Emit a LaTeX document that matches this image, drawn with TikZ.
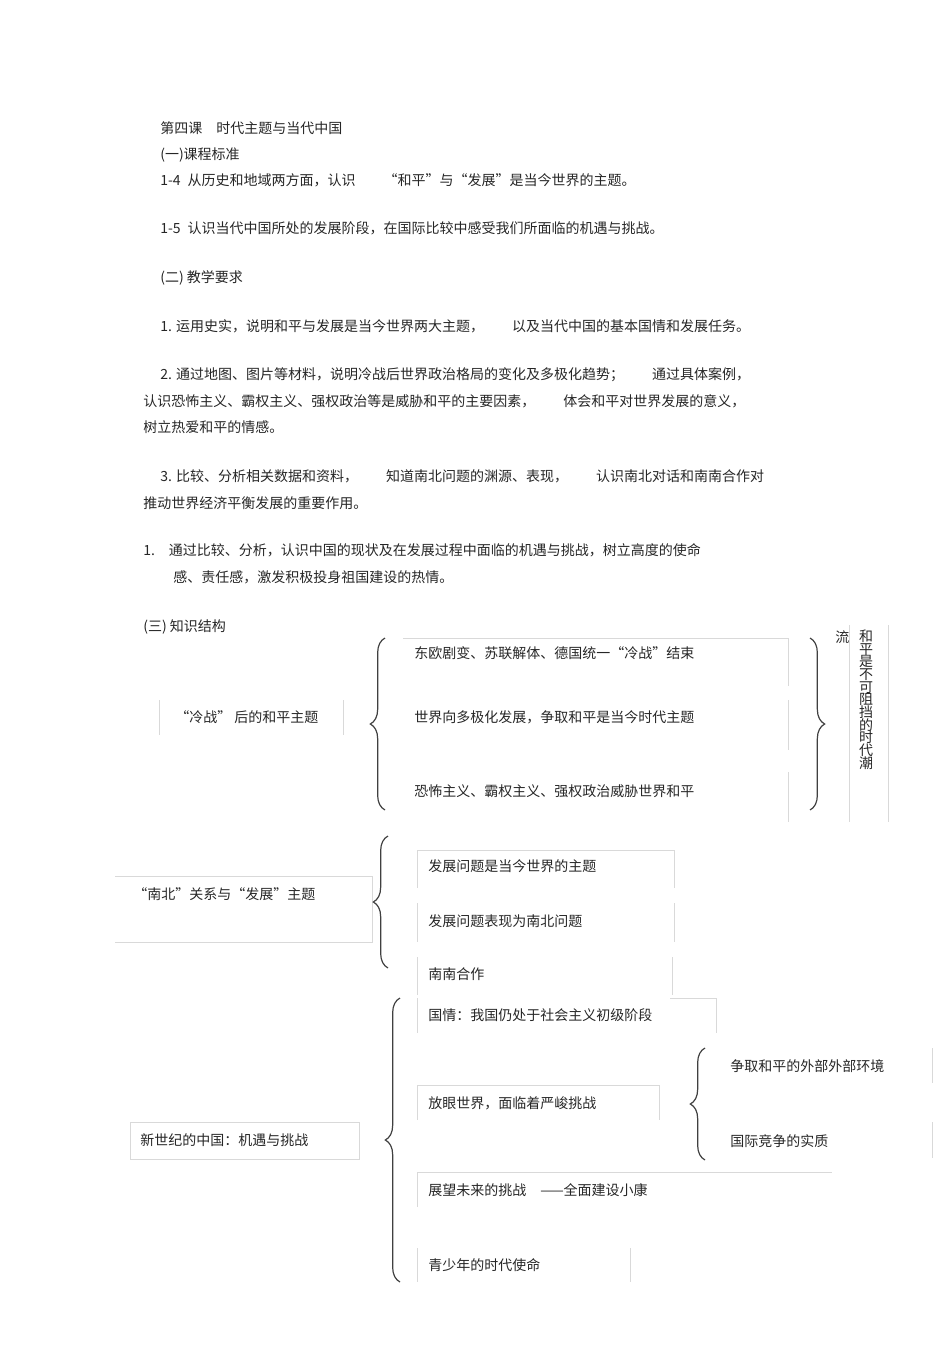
\documentclass[tikz,border=0pt]{standalone}
\usepackage{fontspec}
\setmainfont{Noto Sans CJK SC}
\usetikzlibrary{decorations.pathreplacing}
\begin{document}
\begin{tikzpicture}[x=0.75pt,y=-0.75pt,
  every node/.style={inner sep=0pt,anchor=west,font=\fontsize{10.5}{13}\selectfont,text=black!85},
  faint/.style={draw=black!15,line width=0.6pt},
  brL/.style={draw=black!75,line width=0.9pt,decorate,decoration={brace,amplitude=11pt,mirror}},
  brR/.style={draw=black!75,line width=0.9pt,decorate,decoration={brace,amplitude=11pt}}]
\useasboundingbox (0,0) rectangle (950,1345);
\node (t1) at (160,128) {第四课\quad 时代主题与当代中国};
\node (t2) at (160,155) {(一)课程标准};
\node (t3) at (160,180) {1-4\enspace 从历史和地域两方面，认识\qquad “和平”与“发展”是当今世界的主题。};
\node (t4) at (160,228) {1-5\enspace 认识当代中国所处的发展阶段，在国际比较中感受我们所面临的机遇与挑战。};
\node (t5) at (160,278) {(二) 教学要求};
\node (t6) at (160,326) {1. 运用史实，说明和平与发展是当今世界两大主题，\qquad 以及当代中国的基本国情和发展任务。};
\node (t7) at (160,375) {2. 通过地图、图片等材料，说明冷战后世界政治格局的变化及多极化趋势；\qquad 通过具体案例，};
\node (t8) at (143,401) {认识恐怖主义、霸权主义、强权政治等是威胁和平的主要因素，\qquad 体会和平对世界发展的意义，};
\node (t9) at (143,427) {树立热爱和平的情感。};
\node (t10) at (160,476) {3. 比较、分析相关数据和资料，\qquad 知道南北问题的渊源、表现，\qquad 认识南北对话和南南合作对};
\node (t11) at (143,503) {推动世界经济平衡发展的重要作用。};
\node (t12) at (143,550) {1.\quad 通过比较、分析，认识中国的现状及在发展过程中面临的机遇与挑战，树立高度的使命};
\node (t13) at (173,577) {感、责任感，激发积极投身祖国建设的热情。};
\node (t14) at (143,627) {(三) 知识结构};
% section 1
\draw[faint] (159,700)--(159,735) (343,700)--(343,735);
\node (a) at (175,717) {“冷战” 后的和平主题};
\draw[brL] (385,638) -- (385,810);
\draw[faint] (403,638)--(788,638) (788,638)--(788,686) (788,700)--(788,750) (788,772)--(788,822);
\node (a1) at (414,653) {东欧剧变、苏联解体、德国统一“冷战”结束};
\node (a2) at (414,717) {世界向多极化发展，争取和平是当今时代主题};
\node (a3) at (414,791) {恐怖主义、霸权主义、强权政治威胁世界和平};
\draw[brR] (810,638) -- (810,810);
\draw[faint] (849,625)--(849,822) (888,625)--(888,822);
\node (l) at (835,637) {流};
\node[anchor=north] (v) at (866,629) {\begin{tabular}{@{}c@{}}和\\[-3.5pt]平\\[-3.5pt]是\\[-3.5pt]不\\[-3.5pt]可\\[-3.5pt]阻\\[-3.5pt]挡\\[-3.5pt]的\\[-3.5pt]时\\[-3.5pt]代\\[-3.5pt]潮\end{tabular}};
% section 2
\draw[faint] (115,876)--(372,876)--(372,942)--(115,942);
\node (b) at (133,894) {“南北”关系与“发展”主题};
\draw[brL] (388,836) -- (388,968);
\draw[faint] (417,850)--(674,850) (674,850)--(674,888) (674,903)--(674,942)
  (417,850)--(417,888) (417,903)--(417,942) (417,957)--(417,995) (672,957)--(672,995);
\node (b1) at (428,866) {发展问题是当今世界的主题};
\node (b2) at (428,921) {发展问题表现为南北问题};
\node (b3) at (428,974) {南南合作};
% section 3
\draw[faint] (130,1122) rectangle (359,1159);
\node (c) at (140,1140) {新世纪的中国：机遇与挑战};
\draw[brL] (400,998) -- (400,1282);
\draw[faint] (417,998)--(417,1033) (670,998)--(716,998)--(716,1033)
  (417,1085)--(659,1085)--(659,1120) (417,1085)--(417,1120)
  (417,1172)--(832,1172) (417,1172)--(417,1207)
  (417,1248)--(417,1282) (630,1248)--(630,1282)
  (932,1048)--(932,1083) (932,1122)--(932,1158);
\node (c1) at (428,1015) {国情：我国仍处于社会主义初级阶段};
\node (c2) at (428,1103) {放眼世界，面临着严峻挑战};
\node (c3) at (428,1190) {展望未来的挑战\quad ------全面建设小康};
\node (c4) at (428,1265) {青少年的时代使命};
\draw[brL] (705,1048) -- (705,1160);
\node (d1) at (730,1066) {争取和平的外部外部环境};
\node (d2) at (730,1141) {国际竞争的实质};
\end{tikzpicture}
\end{document}
